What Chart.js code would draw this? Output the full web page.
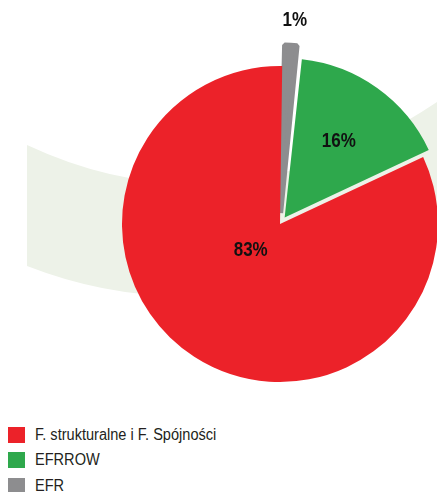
<!DOCTYPE html>
<html>
<head>
<meta charset="utf-8">
<script src="https://cdn.jsdelivr.net/npm/chart.js@4"></script>
<style>
  body { margin: 0; background: #fff; width: 437px; height: 492px; overflow: hidden; position: relative;
         font-family: "Liberation Sans", Arial, sans-serif; }
  #pie { position: absolute; left: 0; top: 0; }
  #legend { position: absolute; left: 8px; top: 422px; }
  .item { display: flex; align-items: center; height: 25.5px; font-size: 16px; color: #231f20; white-space: nowrap; }
  .box { width: 17px; height: 16px; margin-right: 10px; flex: none; }
  .txt { display: inline-block; transform: scaleX(0.91); transform-origin: 0 50%; }
</style>
</head>
<body>
<canvas id="pie" width="437" height="420"></canvas>
<div id="legend"></div>
<script>
// slices in drawing order, clockwise from 12 o'clock
const categories = ['EFR', 'EFRROW', 'F. strukturalne i F. Spójności'];
const shares = [1.49, 16.4, 82.5];
const colors = ['#8d8d8f', '#2ea84c', '#ec2229'];
const explode = [44, 32, 0];
const edge = [5, 0, 0];
const labelDist = [1.29, 0.64, 0.25];
const labelTurn = [0.7, 0, 15];

const labelFont = 'bold 20px "Liberation Sans", Arial, sans-serif';

// pale swoosh behind the pie
const bandPlugin = {
  id: 'band',
  beforeDraw(chart) {
    const ctx = chart.ctx;
    ctx.save();
    ctx.fillStyle = '#edf2e8';
    ctx.beginPath();
    ctx.moveTo(27, 145);
    ctx.quadraticCurveTo(230, 240, 437, 102);
    ctx.lineTo(437, 215);
    ctx.quadraticCurveTo(230, 345, 27, 266);
    ctx.closePath();
    ctx.fill();
    ctx.restore();
  }
};

// percent labels on / above the slices, squeezed like a condensed face
const labelPlugin = {
  id: 'sliceLabels',
  afterDatasetsDraw(chart) {
    const ctx = chart.ctx;
    const arcs = chart.getDatasetMeta(0).data;
    arcs.forEach(function (arc, i) {
      const p = arc.getProps(['x', 'y', 'startAngle', 'endAngle', 'outerRadius']);
      const mid = (p.startAngle + p.endAngle) / 2 + labelTurn[i] * Math.PI / 180;
      const d = p.outerRadius * labelDist[i];
      const x = p.x + Math.cos(mid) * d;
      const y = p.y + Math.sin(mid) * d;
      ctx.save();
      ctx.translate(x, y);
      ctx.scale(0.85, 1);
      ctx.font = labelFont;
      ctx.fillStyle = '#111';
      ctx.textAlign = 'center';
      ctx.textBaseline = 'middle';
      ctx.fillText(Math.round(shares[i]) + '%', 0, 0);
      ctx.restore();
    });
  }
};

new Chart(document.getElementById('pie'), {
  type: 'pie',
  data: {
    labels: categories,
    datasets: [{
      data: shares,
      backgroundColor: colors,
      borderColor: colors,
      borderWidth: edge,
      offset: explode
    }]
  },
  options: {
    responsive: false,
    animation: false,
    radius: 158,
    rotation: 0.8,
    layout: { padding: { left: 123, top: 28, right: 0, bottom: 0 } },
    plugins: {
      legend: { display: false },
      tooltip: { enabled: false }
    }
  },
  plugins: [bandPlugin, labelPlugin]
});

// legend lists the slices biggest first
const legend = document.getElementById('legend');
for (let i = categories.length - 1; i >= 0; i--) {
  const row = document.createElement('div');
  row.className = 'item';
  const box = document.createElement('span');
  box.className = 'box';
  box.style.background = colors[i];
  const txt = document.createElement('span');
  txt.className = 'txt';
  txt.textContent = categories[i];
  row.appendChild(box);
  row.appendChild(txt);
  legend.appendChild(row);
}
</script>
</body>
</html>
